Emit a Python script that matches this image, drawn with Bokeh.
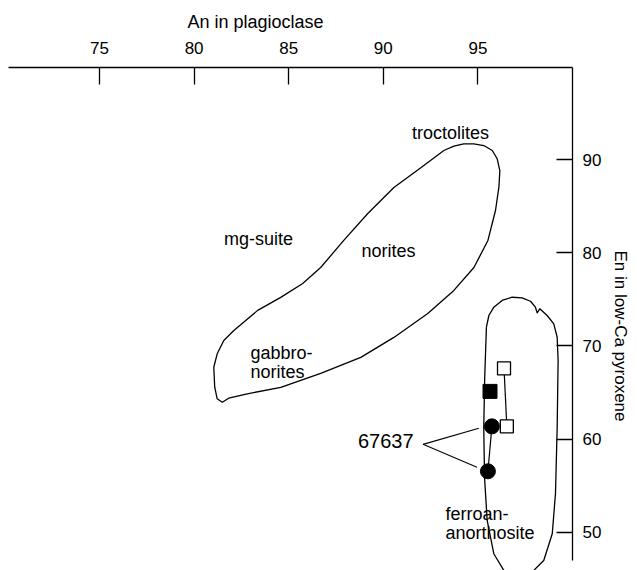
from bokeh.plotting import figure
from bokeh.models import LinearAxis, Range1d, Label, FixedTicker, Title
from bokeh.embed import file_html
from bokeh.resources import INLINE

# ---- data ----
x_ticks = [75, 80, 85, 90, 95]
y_ticks = [50, 60, 70, 80, 90]

# mg-suite envelope (An, En)
mg_an = [93.20, 93.73, 94.25, 94.78, 95.31, 95.76, 96.02, 96.16, 96.11, 95.93, 95.53,
         94.79, 93.73, 92.35, 90.56, 88.81, 86.69, 84.58, 82.81, 81.83, 81.49, 81.22,
         81.09, 81.04, 81.22, 81.57, 82.10, 83.36, 84.58, 85.74, 86.69, 87.91, 89.18,
         90.56, 92.00, 93.20]
mg_en = [90.97, 91.43, 91.68, 91.68, 91.50, 90.97, 90.08, 88.82, 87.03, 84.53, 81.32,
         78.42, 75.96, 73.49, 70.92, 68.78, 67.06, 65.56, 64.87, 64.40, 63.97, 64.34,
         65.58, 67.72, 69.16, 70.59, 71.66, 73.82, 75.21, 76.71, 78.42, 81.32, 84.21,
         87.00, 89.14, 90.97]

# ferroan-anorthosite envelope
fan_an = [95.45, 95.58, 95.84, 96.28, 96.81, 97.34, 97.78, 98.04, 98.13, 98.27, 98.66,
          99.01, 99.19, 99.24, 99.19, 99.10, 98.93, 98.48, 97.95, 97.17, 96.37, 95.84,
          95.49, 95.35, 95.31, 95.36, 95.45]
fan_en = [72.02, 73.27, 74.16, 74.88, 75.23, 75.17, 74.80, 74.16, 73.56, 73.99, 73.27,
          72.38, 70.94, 68.44, 61.29, 54.15, 49.86, 47.00, 45.93, 45.40, 45.93, 47.72,
          51.29, 55.93, 61.29, 66.65, 72.02]

# data points
open_sq_an = [96.38, 96.53]
open_sq_en = [67.60, 61.38]
fill_sq_an = [95.64]
fill_sq_en = [65.13]
circ_an = [95.74, 95.53]
circ_en = [61.38, 56.56]

# leader lines for sample 67637
lead_start = (92.10, 59.45)
lead_ends_an = [95.05, 94.95]
lead_ends_en = [61.17, 56.99]

FONT = "Liberation Sans"

p = figure(width=637, height=570, output_backend="svg", toolbar_location=None,
           x_range=Range1d(70.19, 100.0), y_range=Range1d(45.92, 99.87),
           x_axis_location=None, y_axis_location=None,
           min_border_left=8, min_border_right=65, min_border_top=67, min_border_bottom=0)
p.outline_line_color = None
p.grid.visible = False
p.background_fill_color = "white"

ax_top = LinearAxis(ticker=FixedTicker(ticks=x_ticks))
ax_top.major_tick_in = 17
ax_top.major_tick_out = 0
ax_top.minor_tick_in = 0
ax_top.minor_tick_out = 0
ax_top.major_label_standoff = 14
ax_top.major_label_text_font = FONT
ax_top.major_label_text_font_size = "17px"
ax_top.major_label_text_color = "black"
ax_top.axis_line_width = 1.3
ax_top.major_tick_line_width = 1.3
p.add_layout(ax_top, "above")

ax_r = LinearAxis(ticker=FixedTicker(ticks=y_ticks), bounds=(47.0, 99.87))
ax_r.major_tick_in = 16
ax_r.major_tick_out = 0
ax_r.minor_tick_in = 0
ax_r.minor_tick_out = 0
ax_r.major_label_standoff = 10
ax_r.major_label_text_font = FONT
ax_r.major_label_text_font_size = "17px"
ax_r.major_label_text_color = "black"
ax_r.axis_line_width = 1.3
ax_r.major_tick_line_width = 1.3
p.add_layout(ax_r, "right")

# axis titles
p.add_layout(Title(text="An in plagioclase", align="left", offset=179, standoff=14,
                   text_font=FONT, text_font_size="18px", text_font_style="normal",
                   text_color="black"), "above")
p.add_layout(Title(text="En in low-Ca pyroxene", align="left", offset=183, standoff=12,
                   text_font=FONT, text_font_size="17px", text_font_style="normal",
                   text_color="black"), "right")

# envelopes
p.line(mg_an, mg_en, line_color="black", line_width=1.3, line_join="round")
p.line(fan_an, fan_en, line_color="black", line_width=1.3, line_join="round")

# tie lines
p.line(open_sq_an, open_sq_en, line_color="black", line_width=1.2)
p.line(circ_an, circ_en, line_color="black", line_width=1.2)

# leader lines
for ea, ee in zip(lead_ends_an, lead_ends_en):
    p.line([lead_start[0], ea], [lead_start[1], ee], line_color="black", line_width=1.1)

# markers
p.scatter(open_sq_an, open_sq_en, marker="square", size=13, fill_color="white",
          line_color="black", line_width=1.3)
p.scatter(fill_sq_an, fill_sq_en, marker="square", size=14, fill_color="black",
          line_color="black")
p.scatter(circ_an, circ_en, marker="circle", size=15, fill_color="black",
          line_color="black")

def lab(text, x, y, align="left", size="18px", baseline="alphabetic"):
    p.add_layout(Label(x=x, y=y, text=text, text_align=align, text_baseline=baseline,
                       text_font=FONT, text_font_size=size, text_color="black"))

lab("troctolites", 93.55, 92.80, align="center")
lab("mg-suite", 83.40, 81.52, align="center")
lab("norites", 90.27, 80.17, align="center")
lab("gabbro-", 82.98, 69.23)
lab("norites", 82.98, 67.23)
lab("ferroan-", 93.29, 51.96)
lab("anorthosite", 93.29, 49.99)
lab("67637", 91.60, 59.85, align="right", size="20px")

open("out.html", "w").write(file_html(p, INLINE))
